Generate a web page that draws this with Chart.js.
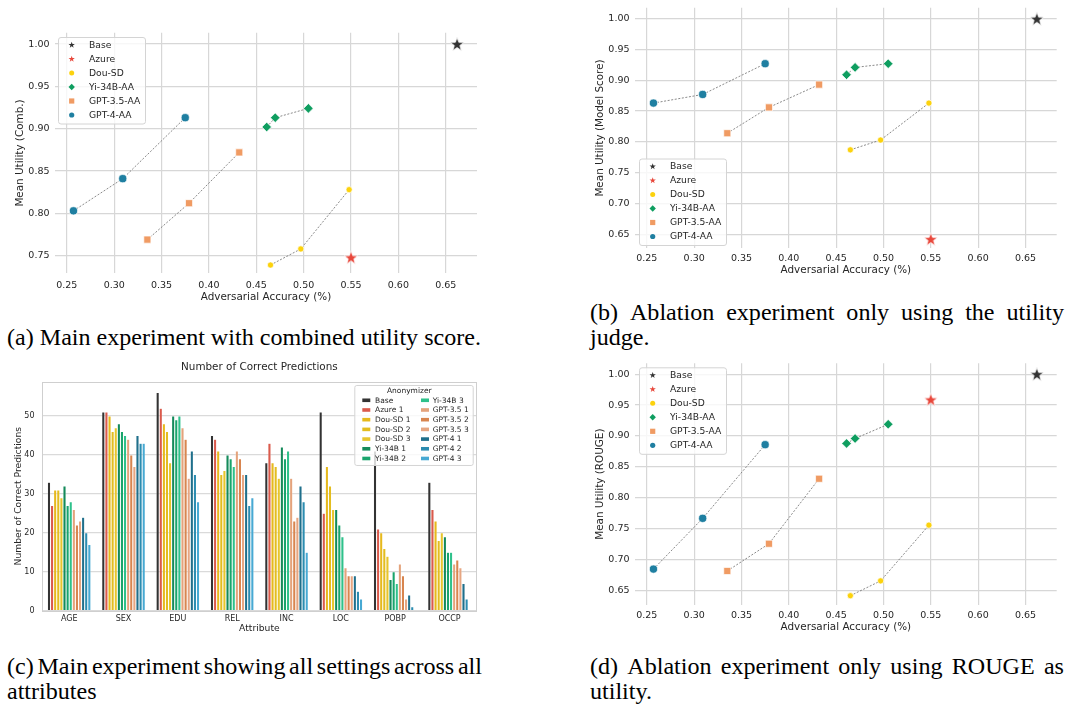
<!DOCTYPE html>
<html><head><meta charset="utf-8">
<script src="https://cdn.jsdelivr.net/npm/chart.js@4.4.1/dist/chart.umd.min.js"></script>
<style>
html,body{margin:0;padding:0;background:#fff}
body{width:1070px;height:707px;position:relative;overflow:hidden}
canvas{position:absolute}
.cap{position:absolute;font-family:"Liberation Serif","Times New Roman",Times,serif;font-size:23px;line-height:23px;white-space:nowrap;transform-origin:0 0;color:#000}
.just{display:flex;justify-content:space-between}
</style></head><body>
<canvas id="cA" width="490" height="290" style="left:0;top:20px"></canvas>
<canvas id="cB" width="490" height="290" style="left:580px;top:0"></canvas>
<canvas id="cC" width="490" height="290" style="left:0;top:355px"></canvas>
<canvas id="cD" width="490" height="290" style="left:580px;top:355px"></canvas>
<script>
// ---------- DATA ----------
const seriesNames = ['Base','Azure','Dou-SD','Yi-34B-AA','GPT-3.5-AA','GPT-4-AA'];
// adversarial accuracy (x)
const baseAcc  = [0.662];
const azureAcc = [0.550];
const douAcc   = [0.465, 0.497, 0.548];
const yiAcc    = [0.461, 0.470, 0.505];
const gpt35Acc = [0.335, 0.379, 0.432];
const gpt4Acc  = [0.257, 0.309, 0.375];
// (a) combined utility
const combBase  = [1.000];
const combAzure = [0.748];
const combDou   = [0.739, 0.758, 0.828];
const combYi    = [0.902, 0.913, 0.924];
const combGpt35 = [0.769, 0.812, 0.872];
const combGpt4  = [0.803, 0.841, 0.913];
// (b) model-score utility
const judgeBase  = [1.000];
const judgeAzure = [0.642];
const judgeDou   = [0.787, 0.803, 0.863];
const judgeYi    = [0.909, 0.921, 0.927];
const judgeGpt35 = [0.814, 0.856, 0.893];
const judgeGpt4  = [0.863, 0.877, 0.927];
// (d) ROUGE utility
const rougeBase  = [1.000];
const rougeAzure = [0.959];
const rougeDou   = [0.642, 0.666, 0.756];
const rougeYi    = [0.888, 0.896, 0.919];
const rougeGpt35 = [0.682, 0.726, 0.831];
const rougeGpt4  = [0.685, 0.767, 0.886];

const xTickVals   = [0.25,0.30,0.35,0.40,0.45,0.50,0.55,0.60,0.65];
const yTicksComb  = [0.75,0.80,0.85,0.90,0.95,1.00];
const yTicksAbl   = [0.65,0.70,0.75,0.80,0.85,0.90,0.95,1.00];

// (c) number of correct predictions
const attributes = ['AGE','SEX','EDU','REL','INC','LOC','POBP','OCCP'];
const barNames = ['Base','Azure 1','Dou-SD 1','Dou-SD 2','Dou-SD 3','Yi-34B 1','Yi-34B 2','Yi-34B 3','GPT-3.5 1','GPT-3.5 2','GPT-3.5 3','GPT-4 1','GPT-4 2','GPT-4 3'];
const predBase   = [33,51,56,45,38,51,41,33];
const predAzure1 = [27,51,52,44,43,25,21,26];
const predDou1   = [31,50,48,41,38,37,20,23];
const predDou2   = [31,46,46,35,37,32,16,18];
const predDou3   = [29,47,38,36,34,26,14,20];
const predYi1    = [32,48,50,40,42,26,8,19];
const predYi2    = [27,46,49,39,39,22,10,15];
const predYi3    = [28,45,50,37,41,19,7,15];
const predG35_1  = [26,44,47,41,34,11,12,12];
const predG35_2  = [22,40,44,39,23,9,9,13];
const predG35_3  = [23,37,34,35,24,9,3,11];
const predG4_1   = [24,45,41,35,32,9,4,7];
const predG4_2   = [20,43,35,27,28,5,1,3];
const predG4_3   = [17,43,28,29,15,3,0,0];
const yTicksBar  = [0,10,20,30,40,50];

// ---------- STYLE ----------
const seriesColors = ['#333333','#e8473b','#fcd20d','#0f9e60','#f09b63','#1f7fa1'];
const seriesShapes = ['star','star','circle','diamond','square','circle'];
const barColors = ['#333333','#da5a4c','#e6b91c','#e3bd1f','#e7c52c','#148a5a','#19a46c','#2ec18b','#e4a37c','#d8854f','#e6a682','#1f6f8b','#2b8cb0','#47a9d3'];
const TXT = '#262626';
Chart.defaults.font.family = "'DejaVu Sans', sans-serif";
Chart.defaults.color = TXT;

function starPath(ctx, x, y, r) {
  ctx.beginPath();
  for (let k = 0; k < 10; k++) {
    const rr = (k % 2) ? r * 0.4 : r;
    const ang = -Math.PI / 2 + k * Math.PI / 5;
    const px = x + rr * Math.cos(ang), py = y + rr * Math.sin(ang);
    if (k) ctx.lineTo(px, py); else ctx.moveTo(px, py);
  }
  ctx.closePath();
}
function starImage(r, color) {
  const size = Math.ceil(r * 2 + 3);
  const c = document.createElement('canvas');
  c.width = size; c.height = size;
  const g = c.getContext('2d');
  starPath(g, size / 2, size / 2 + 0.6, r);
  g.fillStyle = color; g.fill();
  g.strokeStyle = '#ffffff'; g.lineWidth = 0.8; g.stroke();
  return c;
}
function drawShape(ctx, kind, x, y, r, fill) {
  if (kind === 'star') starPath(ctx, x, y, r);
  else {
    ctx.beginPath();
    if (kind === 'circle') ctx.arc(x, y, r, 0, Math.PI * 2);
    else if (kind === 'diamond') { ctx.moveTo(x, y - r); ctx.lineTo(x + r, y); ctx.lineTo(x, y + r); ctx.lineTo(x - r, y); ctx.closePath(); }
    else if (kind === 'square') ctx.rect(x - r, y - r, 2 * r, 2 * r);
  }
  ctx.fillStyle = fill; ctx.fill();
}
function roundRect(ctx, x, y, w, h, r) {
  ctx.beginPath();
  ctx.moveTo(x + r, y); ctx.lineTo(x + w - r, y); ctx.quadraticCurveTo(x + w, y, x + w, y + r);
  ctx.lineTo(x + w, y + h - r); ctx.quadraticCurveTo(x + w, y + h, x + w - r, y + h);
  ctx.lineTo(x + r, y + h); ctx.quadraticCurveTo(x, y + h, x, y + h - r);
  ctx.lineTo(x, y + r); ctx.quadraticCurveTo(x, y, x + r, y); ctx.closePath();
}

const scatterLegend = {
  id: 'scatterLegend',
  afterDraw(chart, args, o) {
    const ctx = chart.ctx, a = chart.chartArea;
    const w = 87, h = 86.5;
    const x0 = a.left + o.dx;
    const y0 = o.corner === 'top' ? a.top + o.dy : a.bottom - o.dy - h;
    ctx.save();
    roundRect(ctx, x0 + 0.5, y0 + 0.5, w, h, 2.5);
    ctx.fillStyle = 'rgba(255,255,255,0.8)'; ctx.fill();
    ctx.strokeStyle = '#d4d4d4'; ctx.lineWidth = 1; ctx.stroke();
    const legR = [3.3, 3.3, 2.5, 3.2, 2.6, 2.6];
    seriesNames.forEach((n, i) => {
      const cy = y0 + 8 + 14 * i;
      drawShape(ctx, seriesShapes[i], x0 + 13.7, cy, legR[i], seriesColors[i]);
      ctx.fillStyle = TXT;
      ctx.font = "9.2px 'DejaVu Sans'";
      ctx.textBaseline = 'middle'; ctx.textAlign = 'left';
      ctx.fillText(n, x0 + 31, cy + 0.5);
    });
    ctx.restore();
  }
};

function makeScatter(id, xs, ys, yMin, yMax, yTicks, yTitle, cfg) {
  const styles = [starImage(7.3, seriesColors[0]), starImage(7.3, seriesColors[1]), 'circle', 'rectRot', 'rect', 'circle'];
  const radii = [7, 7, 3.1, 4.8, 5.0, 4.1];
  const datasets = seriesNames.map((name, i) => ({
    label: name,
    data: xs[i].map((x, j) => ({ x: x, y: ys[i][j] })),
    showLine: xs[i].length > 1,
    borderColor: 'rgba(110,110,110,0.9)',
    borderWidth: 0.9,
    borderDash: [2, 1.6],
    pointStyle: styles[i],
    pointRadius: radii[i],
    pointBackgroundColor: seriesColors[i],
    pointBorderColor: '#ffffff',
    pointBorderWidth: 0.7,
    order: 6 - i
  }));
  return new Chart(document.getElementById(id), {
    type: 'scatter',
    data: { datasets },
    plugins: [scatterLegend],
    options: {
      responsive: false, animation: false, events: [],
      layout: { padding: cfg.pad },
      plugins: { legend: { display: false }, tooltip: { enabled: false },
        scatterLegend: cfg.legend },
      scales: {
        x: {
          type: 'linear', min: 0.2375, max: 0.683,
          afterBuildTicks: s => { s.ticks = xTickVals.map(v => ({ value: v })); },
          afterFit: s => { s.height = 36.7; s.paddingLeft = 0; s.paddingRight = 0; },
          ticks: { callback: v => v.toFixed(2), font: { size: 9.5 }, color: TXT, padding: cfg.xTickPad, maxRotation: 0, autoSkip: false },
          grid: { color: '#d7d7d7', lineWidth: 1.2, drawTicks: false },
          border: { display: false },
          title: { display: true, text: 'Adversarial Accuracy (%)', font: { size: 10.4 }, color: TXT, padding: { top: 0, bottom: cfg.xTitlePad } }
        },
        y: {
          type: 'linear', min: yMin, max: yMax,
          afterBuildTicks: s => { s.ticks = yTicks.map(v => ({ value: v })); },
          afterFit: s => { s.width = 55; s.paddingTop = 0; s.paddingBottom = 0; },
          ticks: { callback: v => v.toFixed(2), font: { size: 9.5 }, color: TXT, padding: 5.5, autoSkip: false },
          grid: { color: '#d7d7d7', lineWidth: 1.2, drawTicks: false },
          border: { display: false },
          title: { display: true, text: yTitle, font: { size: 10.4 }, color: TXT, padding: { top: 14.5, bottom: 0 } }
        }
      }
    }
  });
}

const accAll = [baseAcc, azureAcc, douAcc, yiAcc, gpt35Acc, gpt4Acc];
makeScatter('cA', accAll, [combBase, combAzure, combDou, combYi, combGpt35, combGpt4], 0.7292, 1.0134, yTicksComb, 'Mean Utility (Comb.)',
  { pad: { left: 0, top: 12.7, right: 13, bottom: 0 }, xTickPad: 6.5, xTitlePad: 6.4, legend: { corner: 'top', dx: 3, dy: 4.3 } });
makeScatter('cB', accAll, [judgeBase, judgeAzure, judgeDou, judgeYi, judgeGpt35, judgeGpt4], 0.627, 1.018, yTicksAbl, 'Mean Utility (Model Score)',
  { pad: { left: 0, top: 6, right: 13.3, bottom: 5 }, xTickPad: 4.8, xTitlePad: 8.7, legend: { corner: 'bottom', dx: 4, dy: 3.3 } });
makeScatter('cD', accAll, [rougeBase, rougeAzure, rougeDou, rougeYi, rougeGpt35, rougeGpt4], 0.627, 1.0175, yTicksAbl, 'Mean Utility (ROUGE)',
  { pad: { left: 0, top: 8.3, right: 13.3, bottom: 3.3 }, xTickPad: 5, xTitlePad: 7.7, legend: { corner: 'top', dx: 4, dy: 4 } });

// ---------- BAR CHART ----------
const barSeries = [predBase, predAzure1, predDou1, predDou2, predDou3, predYi1, predYi2, predYi3, predG35_1, predG35_2, predG35_3, predG4_1, predG4_2, predG4_3];
const barFrame = {
  id: 'barFrame',
  afterDraw(chart) {
    const ctx = chart.ctx, a = chart.chartArea;
    ctx.save();
    ctx.strokeStyle = '#cfcfcf'; ctx.lineWidth = 1;
    ctx.strokeRect(Math.round(a.left) + 0.5, Math.round(a.top) + 0.5, Math.round(a.right - a.left) - 1, Math.round(a.bottom - a.top));
    const L = a.right - 4 - 118.4, T = a.top + 3.3, W = 118.4, H = 80;
    roundRect(ctx, L + 0.5, T + 0.5, W, H, 2);
    ctx.fillStyle = 'rgba(255,255,255,0.8)'; ctx.fill();
    ctx.strokeStyle = '#d4d4d4'; ctx.stroke();
    ctx.fillStyle = TXT; ctx.font = "7.5px 'DejaVu Sans'";
    ctx.textAlign = 'center'; ctx.textBaseline = 'middle';
    ctx.fillText('Anonymizer', L + 55, T + 5.8);
    ctx.textAlign = 'left';
    barNames.forEach((n, i) => {
      const col = i < 7 ? 0 : 1, row = i % 7;
      const cy = T + 15.3 + row * 9.7;
      const hx = col ? L + 66.7 : L + 8;
      ctx.fillStyle = barColors[i];
      ctx.fillRect(hx, cy - 1.8, 8, 3.6);
      ctx.fillStyle = TXT;
      ctx.fillText(n, col ? L + 78.4 : L + 20.7, cy + 0.3);
    });
    ctx.restore();
  }
};
new Chart(document.getElementById('cC'), {
  type: 'bar',
  data: {
    labels: attributes,
    datasets: barSeries.map((d, i) => ({
      label: barNames[i], data: d, backgroundColor: barColors[i],
      borderColor: 'rgba(255,255,255,0.55)', borderWidth: 0.5, borderSkipped: 'bottom',
      categoryPercentage: 0.8, barPercentage: 1.0
    }))
  },
  plugins: [barFrame],
  options: {
    responsive: false, animation: false, events: [],
    layout: { padding: { left: 0, top: 0, right: 13.3, bottom: 0 } },
    plugins: {
      legend: { display: false }, tooltip: { enabled: false },
      title: { display: true, text: 'Number of Correct Predictions', fullSize: false, font: { size: 10.4, weight: 'normal' }, color: TXT, padding: { top: 6, bottom: 8.2 } }
    },
    scales: {
      x: {
        afterFit: s => { s.height = 34.3; s.paddingLeft = 0; s.paddingRight = 0; },
        ticks: { font: { size: 8 }, color: TXT, padding: 3, maxRotation: 0, autoSkip: false },
        grid: { display: false, drawTicks: false },
        border: { display: false },
        title: { display: true, text: 'Attribute', font: { size: 9.2 }, color: TXT, padding: { top: 0, bottom: 10.5 } }
      },
      y: {
        min: 0, max: 58.8,
        afterBuildTicks: s => { s.ticks = yTicksBar.map(v => ({ value: v })); },
        afterFit: s => { s.width = 42; s.paddingTop = 0; s.paddingBottom = 0; },
        ticks: { font: { size: 8 }, color: TXT, padding: 7.5, autoSkip: false },
        grid: { color: '#dadada', lineWidth: 1.2, drawTicks: false },
        border: { display: false },
        title: { display: true, text: 'Number of Correct Predictions', font: { size: 9.2 }, color: TXT, padding: { top: 13.5, bottom: 0 } }
      }
    }
  }
});

// ---------- CAPTIONS ----------
const CAP_FS = 23;
function makeLine(text, left, baseline, just, width, s) {
  const d = document.createElement('div');
  d.className = 'cap';
  d.style.left = left + 'px';
  d.style.top = (baseline - 0.837 * CAP_FS) + 'px';
  if (just) {
    d.classList.add('just');
    d.style.width = (width / s) + 'px';
    text.split(' ').forEach(w => { const sp = document.createElement('span'); sp.textContent = w; d.appendChild(sp); });
  } else d.textContent = text;
  d.style.transform = 'scaleX(' + s + ')';
  document.body.appendChild(d);
  return d;
}
const probe = document.createElement('span');
probe.className = 'cap';
probe.textContent = '(a) Main experiment with combined utility score.';
document.body.appendChild(probe);
const capScale = 474 / probe.getBoundingClientRect().width;
probe.remove();
makeLine('(a) Main experiment with combined utility score.', 7, 345, false, 474, capScale);
makeLine('(b) Ablation experiment only using the utility', 590, 320, true, 474, capScale);
makeLine('judge.', 590, 345.5, false, 0, capScale);
makeLine('(c) Main experiment showing all settings across all', 7, 674.5, true, 475, capScale);
makeLine('attributes', 7, 699.5, false, 0, capScale);
makeLine('(d) Ablation experiment only using ROUGE as', 590, 674.5, true, 474, capScale);
makeLine('utility.', 590, 699.5, false, 0, capScale);
</script>
</body></html>
